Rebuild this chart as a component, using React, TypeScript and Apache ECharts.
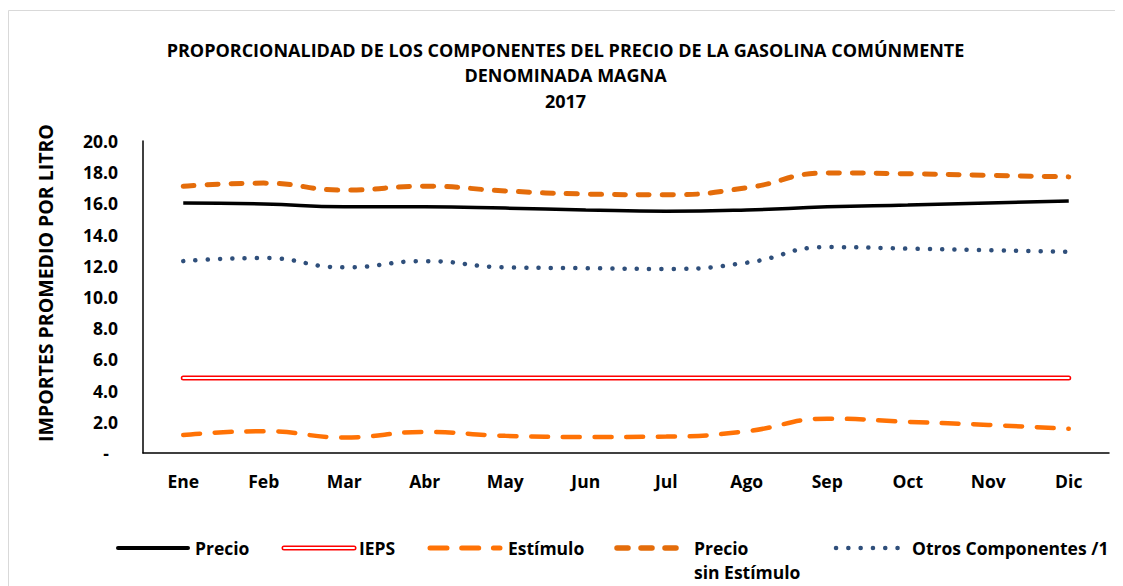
import React, { useEffect, useRef } from "react";
import * as echarts from "echarts";

const months = ["Ene", "Feb", "Mar", "Abr", "May", "Jun", "Jul", "Ago", "Sep", "Oct", "Nov", "Dic"];
const precio = [16.03, 15.96, 15.78, 15.78, 15.7, 15.58, 15.5, 15.58, 15.78, 15.9, 16.03, 16.15];
const ieps = [4.8, 4.8, 4.8, 4.8, 4.8, 4.8, 4.8, 4.8, 4.8, 4.8, 4.8, 4.8];
const estimulo = [1.15, 1.4, 1.0, 1.35, 1.1, 1.03, 1.05, 1.4, 2.2, 2.0, 1.8, 1.55];
const precioSinEstimulo = [17.1, 17.3, 16.85, 17.1, 16.8, 16.6, 16.55, 17.0, 17.95, 17.9, 17.8, 17.7];
const otros = [12.3, 12.5, 11.9, 12.3, 11.9, 11.85, 11.8, 12.2, 13.2, 13.1, 13.0, 12.9];
const yTicks = { min: 0, max: 20, interval: 2 };

const FONT = "'Open Sans'";
const C_EST = "#FF7205";
const C_PSE = "#E46C0A";
const C_OTR = "#2F4F7B";

export default function App() {
  const ref = useRef<HTMLDivElement>(null);
  useEffect(() => {
    if (!ref.current) return;
    const chart = echarts.init(ref.current, undefined, { renderer: "svg" });
    const legY = 540;
    const legLine = (x: number, len: number, style: any) => ({
      type: "line",
      shape: { x1: x, y1: legY, x2: x + len, y2: legY },
      style,
    });
    const legText = (x: number, text: string) => ({
      type: "text",
      x,
      y: legY - 12,
      style: { text, font: `bold 17.5px ${FONT}`, fill: "#000", lineHeight: 24 },
    });
    chart.setOption({
      animation: false,
      title: {
        text: "PROPORCIONALIDAD DE LOS COMPONENTES DEL PRECIO DE LA GASOLINA COMÚNMENTE\nDENOMINADA MAGNA\n2017",
        left: "center",
        top: 24,
        textStyle: { fontFamily: FONT, fontWeight: "bold", fontSize: 18, lineHeight: 25.5, color: "#000" },
      },
      grid: { left: 135, top: 133, width: 966, height: 312, containLabel: false },
      xAxis: {
        type: "category",
        data: months,
        boundaryGap: true,
        axisLine: { lineStyle: { color: "#000", width: 1.5 } },
        axisTick: { show: false },
        axisLabel: { margin: 19, fontFamily: FONT, fontWeight: "bold", fontSize: 17.5, color: "#000" },
      },
      yAxis: {
        type: "value",
        min: yTicks.min,
        max: yTicks.max,
        interval: yTicks.interval,
        axisLine: { show: true, lineStyle: { color: "#000", width: 1.5 } },
        axisTick: { show: false },
        splitLine: { show: false },
        axisLabel: {
          margin: 25,
          fontFamily: FONT,
          fontWeight: "bold",
          fontSize: 17.5,
          color: "#000",
          formatter: (v: number) => (v === 0 ? "{d|-}" : v.toFixed(1)),
          rich: { d: { fontFamily: FONT, fontWeight: "bold", fontSize: 17.5, color: "#000", padding: [0, 9, 0, 0] } },
        },
      },
      series: [
        {
          name: "Precio sin Estímulo",
          type: "line",
          data: precioSinEstimulo,
          smooth: true,
          symbol: "none",
          lineStyle: { color: C_PSE, width: 5, type: [11, 13], cap: "round" },
        },
        {
          name: "Precio",
          type: "line",
          data: precio,
          smooth: true,
          symbol: "none",
          lineStyle: { color: "#000", width: 3.5 },
        },
        {
          name: "Otros Componentes /1",
          type: "line",
          data: otros,
          smooth: true,
          symbol: "none",
          lineStyle: { color: C_OTR, width: 4.5, type: [0.1, 12.2], cap: "round" },
        },
        {
          name: "IEPS",
          type: "line",
          data: ieps,
          symbol: "none",
          lineStyle: { color: "#FF0000", width: 5, cap: "round" },
        },
        {
          name: "IEPS inner",
          type: "line",
          data: ieps,
          symbol: "none",
          lineStyle: { color: "#FFFFFF", width: 2, cap: "round" },
        },
        {
          name: "Estímulo",
          type: "line",
          data: estimulo,
          smooth: true,
          symbol: "none",
          lineStyle: { color: C_EST, width: 4.5, type: [17, 14.7], cap: "round" },
        },
      ],
      graphic: [
        {
          type: "rect",
          shape: { x: 0.5, y: 2.5, width: 1130, height: 600 },
          style: { fill: "none", stroke: "#D9D9D9", lineWidth: 1 },
          silent: true,
        },
        {
          type: "text",
          x: 37,
          y: 275,
          rotation: Math.PI / 2,
          style: {
            text: "IMPORTES PROMEDIO POR LITRO",
            font: `bold 19.5px ${FONT}`,
            fill: "#000",
            align: "center",
            verticalAlign: "middle",
          },
        },
        legLine(110, 70, { stroke: "#000", lineWidth: 4, lineCap: "round" }),
        legText(187, "Precio"),
        legLine(276, 70, { stroke: "#FF0000", lineWidth: 5, lineCap: "round" }),
        legLine(276, 70, { stroke: "#FFFFFF", lineWidth: 2, lineCap: "round" }),
        legText(351, "IEPS"),
        legLine(422, 70, { stroke: C_EST, lineWidth: 5, lineCap: "round", lineDash: [17, 14.7] }),
        legText(500, "Estímulo"),
        legLine(609, 66, { stroke: C_PSE, lineWidth: 5.5, lineCap: "round", lineDash: [11, 13] }),
        legText(686, "Precio\nsin Estímulo"),
        legLine(828, 64, { stroke: C_OTR, lineWidth: 4.5, lineCap: "round", lineDash: [0.1, 12.2] }),
        legText(904, "Otros Componentes /1"),
      ],
    });
    return () => chart.dispose();
  }, []);
  return <div ref={ref} style={{ width: 1115, height: 578 }} />;
}
